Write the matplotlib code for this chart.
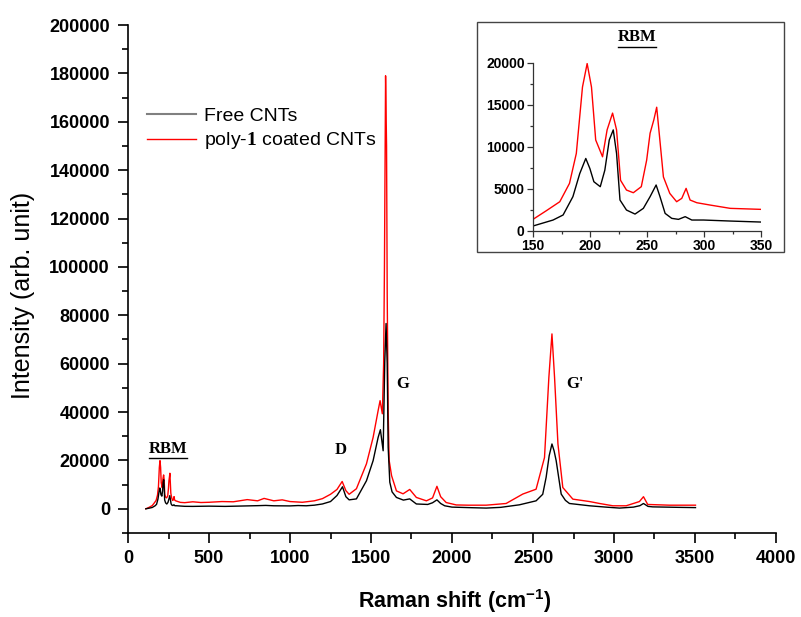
import matplotlib
matplotlib.use("Agg")
import matplotlib.pyplot as plt
from matplotlib.ticker import MultipleLocator
from matplotlib.patches import Rectangle
from matplotlib.lines import Line2D

plt.rcParams['font.family'] = ['Liberation Sans', 'DejaVu Sans']
plt.rcParams['mathtext.fontset'] = 'custom'
plt.rcParams['mathtext.bf'] = 'Liberation Serif:bold'
plt.rcParams['mathtext.rm'] = 'Liberation Sans'

# ---- data ----
free_x = [110, 130, 150, 167.6, 176.4, 185, 191, 196.3, 199.9, 203.4, 209, 213, 216.9, 220.4,
          223.3, 226.3, 232, 239.5, 246.8, 252.7, 258, 261.4, 265.9, 271.7, 277.6, 283.5,
          289.3, 299.6, 323, 350, 400, 500, 600, 700, 800, 850, 900, 1000, 1050, 1100, 1150,
          1200, 1250, 1290, 1324, 1345, 1365, 1410, 1472, 1513, 1544, 1558, 1575, 1585, 1593,
          1600, 1606, 1616, 1630, 1657, 1700, 1739, 1780, 1850, 1880, 1907, 1930, 1955, 2000,
          2100, 2211, 2300, 2416, 2519, 2560, 2581, 2600, 2617, 2630, 2643, 2674, 2700, 2725,
          2849, 2950, 3034, 3120, 3160, 3182, 3210, 3239, 3400, 3503]
free_y = [0, 250, 560, 1270, 1870, 4050, 6800, 8600, 7400, 5830, 5240, 7200, 10800, 12000,
          9200, 3650, 2460, 1980, 2660, 4050, 5440, 4050, 2060, 1470, 1350, 1670,
          1270, 1270, 1150, 1030, 1000, 1100, 1000, 1150, 1300, 1400, 1250, 1200, 1350, 1250, 1500,
          2000, 3000, 5500, 9100, 5000, 3700, 4100, 11600, 19900, 29500, 32700, 24000, 61000, 76600,
          60000, 25400, 11000, 7000, 4700, 3600, 4100, 2000, 1800, 2500, 3700, 2200, 1250, 700,
          500, 300, 600, 1650, 3300, 6000, 13000, 22000, 26800, 24000, 19900, 6100, 3500, 2200,
          1250, 700, 300, 700, 1300, 2200, 1000, 800, 600, 500]

coated_x = [110, 130, 150, 161.7, 173.5, 182, 188, 193.4, 197.5, 201.3, 205, 211, 215, 219.8,
            223.3, 226.8, 232, 238, 245, 249.7, 252.7, 256, 258.5, 261, 264.4, 270, 276, 280.5,
            284.3, 287.8, 293.7, 305.5, 323, 350, 400, 450, 500, 580, 650, 736, 800, 840, 900,
            952, 1000, 1076, 1150, 1200, 1250, 1290, 1322, 1345, 1365, 1410, 1472, 1513, 1544,
            1556, 1570, 1578, 1583, 1590, 1596, 1600, 1606, 1612, 1627, 1657, 1698, 1739, 1780,
            1842, 1880, 1907, 1930, 1964, 2026, 2100, 2211, 2334, 2437, 2519, 2571, 2598, 2617,
            2633, 2654, 2684, 2746, 2849, 2911, 2993, 3075, 3157, 3182, 3208, 3342, 3503]
coated_y = [0, 600, 1350, 2380, 3450, 5630, 9200, 17100, 19900, 17100, 10800, 8800, 12000, 14000,
            12000, 6000, 4840, 4520, 5240, 8400, 11600, 13200, 14700, 11200, 6400, 4440, 3450, 3850,
            5040, 3650, 3330, 3050, 2660, 2540, 2900, 2600, 2700, 3000, 2900, 3800, 3300, 4300, 3300,
            3700, 3000, 2700, 3300, 4200, 6000, 8000, 11300, 7500, 6000, 8300, 18600, 29500, 40600,
            44700, 39300, 60000, 100000, 179000, 150000, 89000, 40000, 20000, 13700, 7400, 6200, 8000, 4700,
            3300, 4500, 9300, 5000, 2600, 1600, 1500, 1500, 2200, 6100, 8100, 21200, 54400, 72300,
            54400, 26800, 8800, 4000, 3000, 2200, 1250, 1250, 3000, 5000, 1800, 1500, 1500]

series_labels = ['Free CNTs', 'poly-$\\mathbf{1}$ coated CNTs']
band_labels = ['D', 'G', "G'"]
band_pos = [(1314, 24400), (1697, 51700), (2758, 51700)]
rbm_label_pos = (247, 24800)

# ---- figure ----
W, H = 801, 617
fig = plt.figure(figsize=(W / 100, H / 100), dpi=100)

def fx(px):
    return px / W

def fy(py):
    return 1 - py / H

ax = fig.add_axes([fx(128), fy(533), fx(776) - fx(128), fy(25) - fy(533)])
l_red, = ax.plot(coated_x, coated_y, color='#ff0000', lw=1.0)
l_blk, = ax.plot(free_x, free_y, color='#000000', lw=1.0)
ax.set_xlim(0, 4000)
ax.set_ylim(-10000, 200000)
ax.xaxis.set_major_locator(MultipleLocator(500))
ax.xaxis.set_minor_locator(MultipleLocator(250))
ax.yaxis.set_minor_locator(MultipleLocator(10000))
ax.set_yticks(range(0, 200001, 20000))
for s in ['top', 'right']:
    ax.spines[s].set_visible(False)
for s in ['left', 'bottom']:
    ax.spines[s].set_linewidth(1.2)
ax.tick_params(which='major', direction='out', length=7, width=1.2, labelsize=13, pad=5)
ax.tick_params(axis='y', which='major', pad=6)
ax.tick_params(which='minor', direction='out', length=4, width=1.2)
for lab in ax.get_xticklabels() + ax.get_yticklabels():
    lab.set_fontweight('bold')

ax.set_xlabel('Raman shift (cm$^{\\mathregular{-1}}$)', fontsize=15.5, fontweight='bold')
ax.xaxis.set_label_coords((455 - 128) / 648, (533 - 587) / 508)
ax.set_ylabel('Intensity (arb. unit)', fontsize=18)
ax.yaxis.set_label_coords((35 - 128) / 648, 1 - (295 - 25) / 508)

leg = ax.legend([l_blk, l_red], series_labels, loc='upper left',
                bbox_to_anchor=(fx(147), fy(107)), bbox_transform=fig.transFigure,
                frameon=False, fontsize=14, handlelength=2.5, handletextpad=0.45,
                labelspacing=0.3, borderaxespad=0, borderpad=0)
leg.get_lines()[0].set_color('#808080')
leg.get_lines()[0].set_linewidth(1.5)

serif = ['Liberation Serif', 'DejaVu Serif']
for lab, (xx, yy) in zip(band_labels, band_pos):
    ax.text(xx, yy, lab, family=serif, fontweight='bold', fontsize=12, ha='center', va='center')
rbm_main = ax.text(rbm_label_pos[0], rbm_label_pos[1], 'RBM', family=serif, fontweight='bold',
                   fontsize=12, ha='center', va='center')

# ---- inset ----
fig.add_artist(Rectangle((fx(477), fy(252)), fx(784) - fx(477), fy(22) - fy(252),
                         transform=fig.transFigure, fill=False, edgecolor='#444444', lw=1.0))
ins = fig.add_axes([fx(533), fy(230.7), fx(761) - fx(533), fy(62.7) - fy(230.7)])
ins.plot(coated_x, coated_y, color='#ff0000', lw=1.0)
ins.plot(free_x, free_y, color='#000000', lw=1.0)
ins.set_xlim(150, 350)
ins.set_ylim(0, 20000)
ins.xaxis.set_major_locator(MultipleLocator(50))
ins.xaxis.set_minor_locator(MultipleLocator(25))
ins.yaxis.set_major_locator(MultipleLocator(5000))
ins.yaxis.set_minor_locator(MultipleLocator(2500))
for s in ['top', 'right']:
    ins.spines[s].set_visible(False)
for s in ['left', 'bottom']:
    ins.spines[s].set_linewidth(0.9)
    ins.spines[s].set_color('#333333')
ins.tick_params(which='major', direction='out', length=4, width=0.9, labelsize=10, pad=2,
                color='#333333')
ins.tick_params(which='minor', direction='out', length=2.5, width=0.9, color='#333333')
for lab in ins.get_xticklabels() + ins.get_yticklabels():
    lab.set_fontweight('bold')
rbm_ins = fig.text(fx(637), fy(37), 'RBM', family=serif, fontweight='bold', fontsize=12,
                   ha='center', va='center')

# underline the RBM labels
fig.canvas.draw()
r = fig.canvas.get_renderer()
for t in (rbm_main, rbm_ins):
    bb = t.get_window_extent(r)
    y0 = bb.y0 - 1.5
    fig.add_artist(Line2D([bb.x0 / W, bb.x1 / W], [y0 / H, y0 / H],
                          transform=fig.transFigure, color='black', lw=1.0))

fig.savefig('out.png', dpi=100)
